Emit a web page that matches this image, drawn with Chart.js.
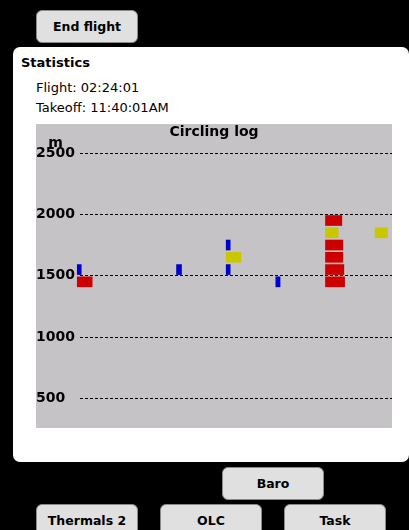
<!DOCTYPE html>
<html>
<head>
<meta charset="utf-8">
<title>Statistics - Circling log</title>
<script src="https://cdn.jsdelivr.net/npm/chart.js@4"></script>
<style>
  html, body { margin: 0; padding: 0; }
  body {
    width: 409px; height: 530px; background: #000;
    position: relative; overflow: hidden;
    font-family: "DejaVu Sans", sans-serif; color: #000;
  }
  .btn {
    position: absolute; box-sizing: border-box;
    width: 102px; height: 33px;
    background: #e0e0e0; border: 1.5px solid #8a8a8a; border-radius: 6px;
    font-weight: bold; font-size: 12.5px; text-align: center; line-height: 31px;
  }
  .panel {
    position: absolute; left: 13px; top: 47px;
    width: 396px; height: 415px;
    background: #fff; border-radius: 7px;
  }
  .txt { position: absolute; font-size: 13px; line-height: 16px; white-space: nowrap; }
  #log { position: absolute; left: 36px; top: 124px; background: #c5c3c6; }
</style>
</head>
<body>
<div class="btn" style="left:36px; top:10px;">End flight</div>

<div class="panel"></div>
<div class="txt" style="left:21px; top:55px; font-weight:bold;">Statistics</div>
<div class="txt" style="left:36px; top:80px;">Flight: 02:24:01</div>
<div class="txt" style="left:36px; top:100px;">Takeoff: 11:40:01AM</div>

<canvas id="log" width="356" height="304"></canvas>

<div class="btn" style="left:222px; top:467px;">Baro</div>
<div class="btn" style="left:36px; top:504px;">Thermals 2</div>
<div class="btn" style="left:160px; top:504px;">OLC</div>
<div class="btn" style="left:284px; top:504px;">Task</div>

<script>
// Circling log: one bar per 100 m altitude band of a thermal.
// Bar starts at the thermal start time (min), length = time circled in that band.

// weak climb (blue)
const weakStart = [0, 40, 60, 60, 80];
const weakAlt   = [1550, 1550, 1750, 1550, 1450];
const weakTime  = [1.6, 2.0, 1.6, 1.6, 1.7];

// medium climb (yellow)
const mediumStart = [60, 100, 120];
const mediumAlt   = [1650, 1850, 1850];
const mediumTime  = [5.9, 5.1, 5.0];

// strong climb (red)
const strongStart = [0, 100, 100, 100, 100, 100];
const strongAlt   = [1450, 1950, 1750, 1650, 1550, 1450];
const strongTime  = [6.0, 6.6, 7.0, 7.0, 7.4, 7.7];

// altitude axis
const altTicks = [500, 1000, 1500, 2000, 2500];
const altUnit = 'm';

const FONT = 'DejaVu Sans';

// turn start/alt/time lists into floating bars
function bars(start, alt, time) {
    return start.map((s, i) => ({ x: [s, s + time[i]], y: alt[i] }));
}

// small unit label above the altitude ticks
const unitLabel = {
    id: 'unitLabel',
    afterDraw(chart) {
        const y = chart.scales.y;
        const ctx = chart.ctx;
        ctx.save();
        ctx.font = 'bold 14px "' + FONT + '"';
        ctx.fillStyle = '#000';
        ctx.textAlign = 'center';
        ctx.fillText(altUnit, y.left + 19.5, chart.chartArea.top + 6);
        ctx.restore();
    }
};

new Chart(document.getElementById('log'), {
    type: 'bar',
    data: {
        datasets: [
            { label: 'weak', data: bars(weakStart, weakAlt, weakTime), backgroundColor: '#0000cc', clip: false },
            { label: 'medium', data: bars(mediumStart, mediumAlt, mediumTime), backgroundColor: '#c9c700', clip: false },
            { label: 'strong', data: bars(strongStart, strongAlt, strongTime), backgroundColor: '#cc0000', clip: false }
        ]
    },
    options: {
        indexAxis: 'y',
        responsive: false,
        animation: false,
        devicePixelRatio: 1,
        layout: { padding: 0 },
        datasets: {
            bar: { grouped: false, barThickness: 10, borderWidth: 0 }
        },
        plugins: {
            legend: { display: false },
            tooltip: { enabled: false },
            title: {
                display: true,
                text: 'Circling log',
                color: '#000',
                font: { family: FONT, size: 14, weight: 'bold', lineHeight: 1.2 },
                padding: 0
            }
        },
        scales: {
            x: { type: 'linear', display: false, min: 1.1, max: 126.8 },
            y: {
                type: 'linear',
                position: 'left',
                offset: false,
                min: 258,
                max: 2600,
                afterBuildTicks: s => { s.ticks = altTicks.map(v => ({ value: v })); },
                afterFit: s => { s.width = 44; s.paddingTop = 0; s.paddingBottom = 0; },
                grid: { offset: false, color: '#000', lineWidth: 1, drawTicks: false },
                border: { display: false, dash: [3, 2] },
                ticks: {
                    crossAlign: 'far',
                    padding: 0,
                    color: '#000',
                    font: { family: FONT, size: 14, weight: 'bold' },
                    callback: v => String(v)
                }
            }
        }
    },
    plugins: [unitLabel]
});
</script>
</body>
</html>
